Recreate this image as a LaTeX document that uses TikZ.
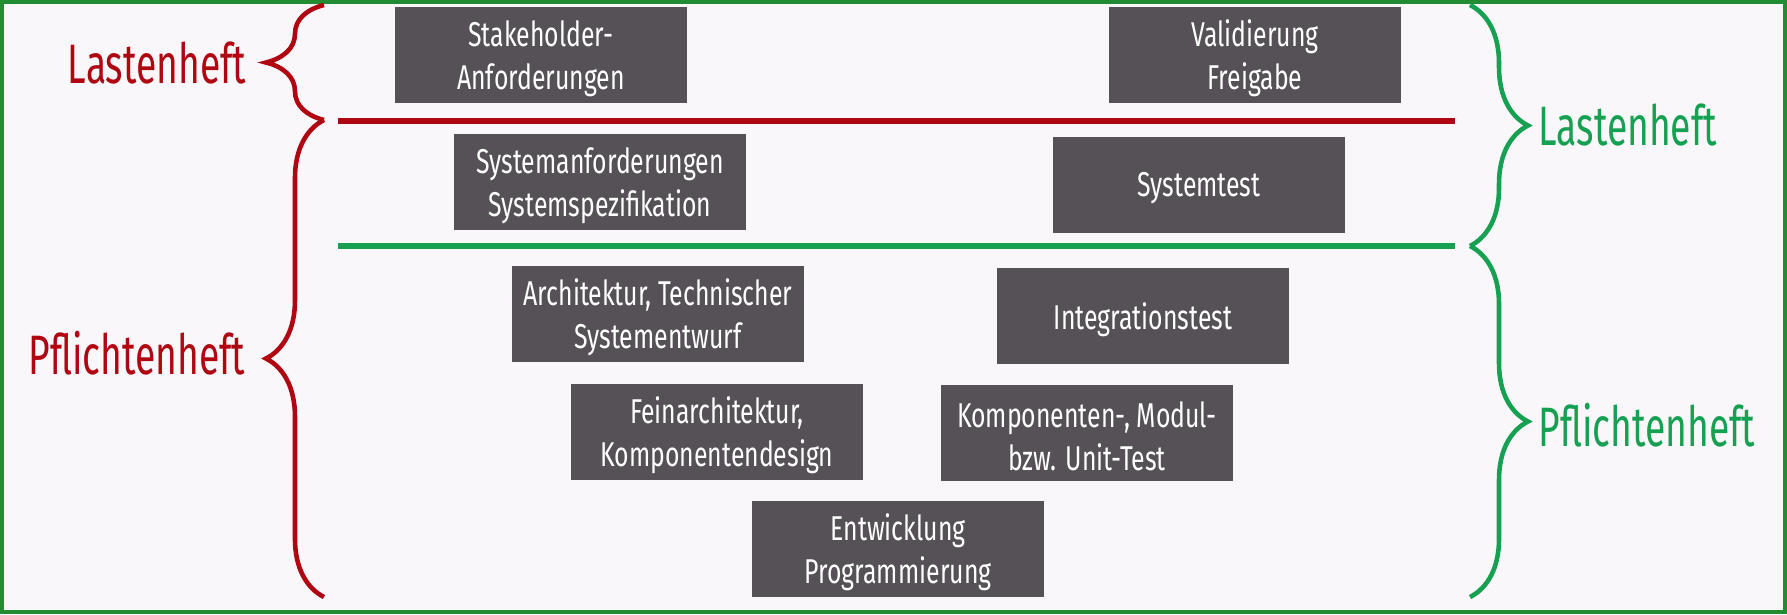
\documentclass[tikz,border=0pt]{standalone}
\usepackage{fontspec}
\setmainfont[FakeStretch=0.72]{Fira Sans}
\newfontfamily\sidefont[FakeStretch=0.67]{Fira Sans}
\usetikzlibrary{decorations.pathreplacing}
\definecolor{lastred}{RGB}{176,6,18}
\definecolor{pflgreen}{RGB}{22,160,82}
\definecolor{framegreen}{RGB}{34,140,50}
\definecolor{boxgrey}{RGB}{86,81,87}
\definecolor{bgpaper}{RGB}{250,247,250}
\tikzset{
  phase/.style={rectangle, fill=boxgrey, minimum width=2.92cm, minimum height=0.95cm, inner sep=0pt},
  phasetext/.style={text=white, inner sep=0pt, align=center, font=\fontsize{9.8}{12.2}\selectfont},
  side/.style={font=\sidefont\fontsize{15.8}{18}\selectfont, inner sep=0pt},
  brc/.style={decorate, decoration={brace, amplitude=0.58cm}, line width=1.3pt},
  sepline/.style={line width=1.7pt},
}

\begin{document}
\begin{tikzpicture}[x=0.01cm,y=-0.01cm]
  % frame
  \useasboundingbox (0,0) rectangle (1787,614);
  \draw[framegreen, fill=bgpaper, line width=1.2pt] (2,2) rectangle (1785,612);
  % phases of the V
  \foreach \n/\x/\y/\t in {sh/541/55/{Stakeholder-\\Anforderungen},
      val/1255/55/{Validierung\\Freigabe},
      sys/600/182/{Systemanforderungen\\Systemspezifikation},
      st/1199/185/{Systemtest},
      arch/658/314/{Architektur, Technischer\\Systementwurf},
      it/1143/316/{Integrationstest},
      fein/717/432/{Feinarchitektur,\\Komponentendesign},
      ut/1087/433/{Komponenten-, Modul-\\bzw. Unit-Test},
      dev/898/549/{Entwicklung\\Programmierung}}{
    \node[phase] (\n) at (\x,\y) {};
    \node[phasetext] (\n-txt) at ([yshift=-0.035cm]\n.center) {\t};
  }
  % separators
  \coordinate (r1) at (338,121);
  \coordinate (r2) at (1455,121);
  \coordinate (g1) at (338,246);
  \coordinate (g2) at (1455,246);
  \draw[sepline, lastred] (r1) -- (r2);
  \draw[sepline, pflgreen] (g1) -- (g2);
  % left side (customer view)
  \draw[brc, lastred] (324,120) -- (324,5);
  \draw[brc, lastred] (324,597) -- (324,120);
  \node[side, text=lastred, anchor=base east] (lhl) at (247,83) {Lastenheft};
  \node[side, text=lastred, anchor=base east] (phl) at (246,374) {Pflichtenheft};
  % right side (supplier view)
  \draw[brc, pflgreen] (1470,5) -- (1470,246);
  \draw[brc, pflgreen] (1470,246) -- (1470,597);
  \node[side, text=pflgreen, anchor=base west] (lhr) at (1538,145) {Lastenheft};
  \node[side, text=pflgreen, anchor=base west] (phr) at (1538,446) {Pflichtenheft};
\end{tikzpicture}
\end{document}
